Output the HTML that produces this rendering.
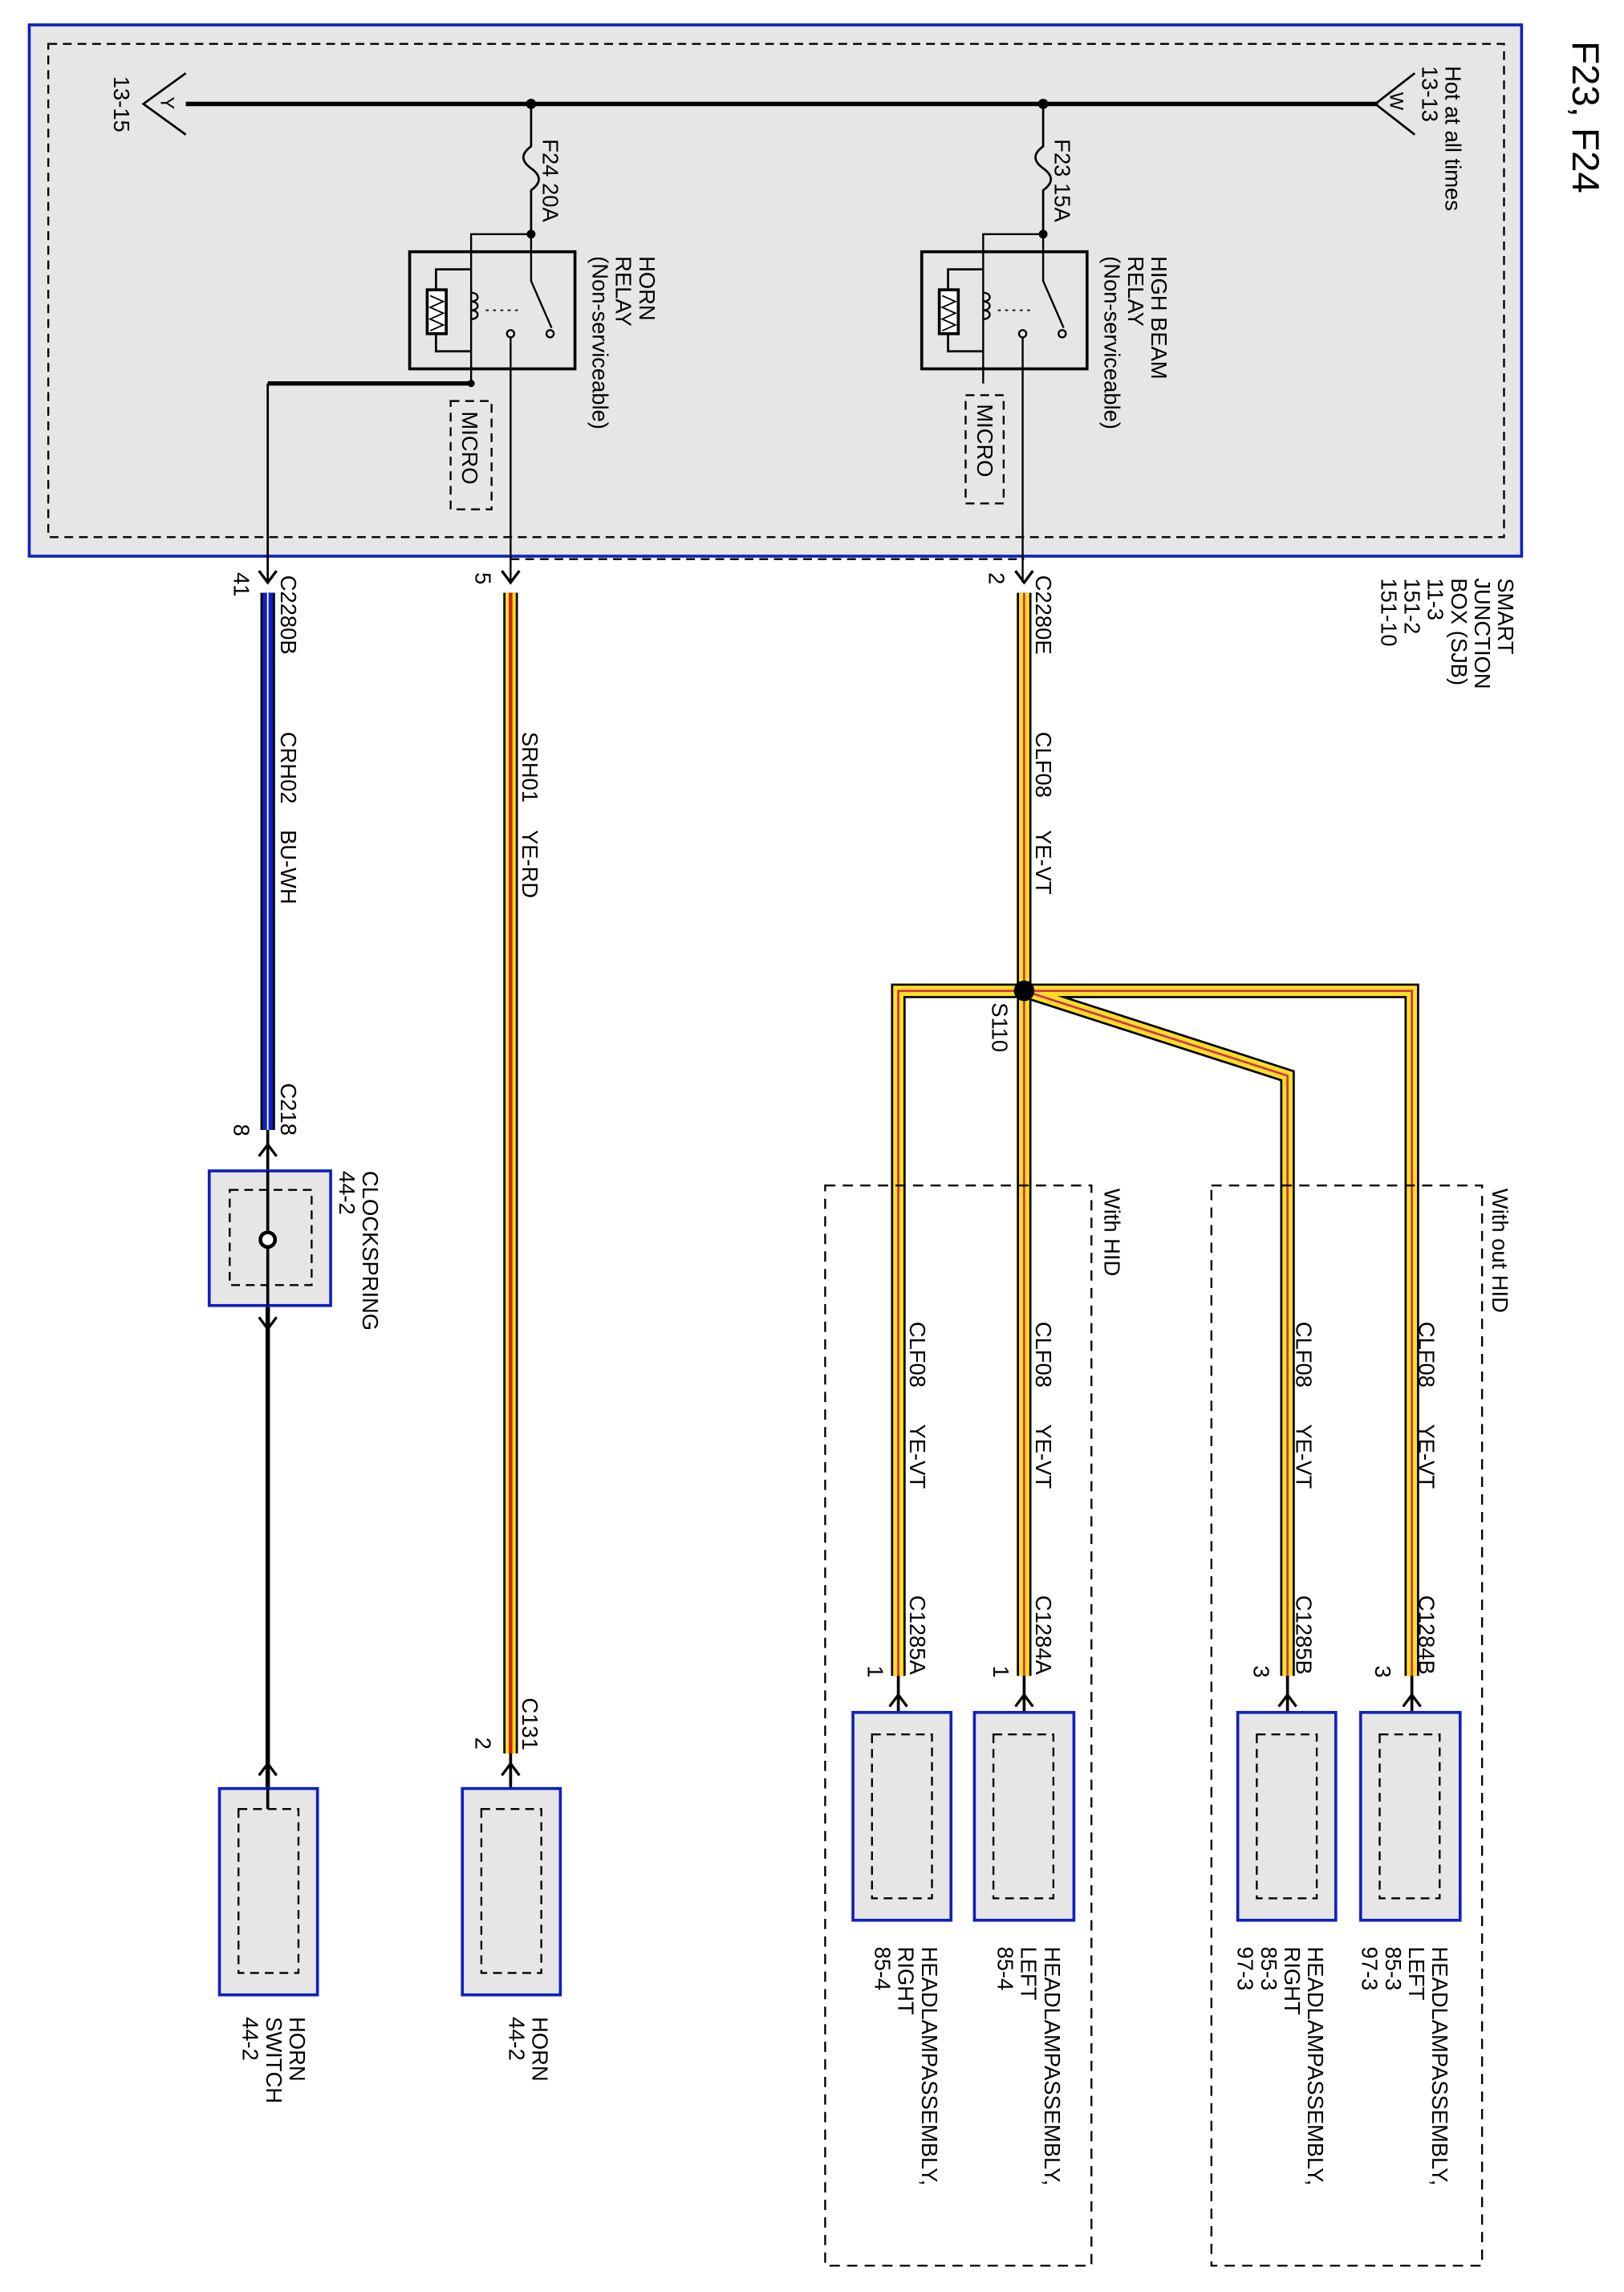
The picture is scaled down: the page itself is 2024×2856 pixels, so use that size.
<!DOCTYPE html>
<html><head><meta charset="utf-8"><style>
html,body{margin:0;padding:0;background:#fff;}
svg{display:block;}
text{font-family:"Liberation Sans",sans-serif;font-size:15px;fill:#000;}
</style></head><body>
<svg width="2024" height="2856" viewBox="0 0 1110 1566" preserveAspectRatio="none" xmlns="http://www.w3.org/2000/svg">
<rect width="1110" height="1566" fill="#fff"/>
<!-- SJB box -->
<rect x="20" y="17" width="1020" height="363" fill="#e6e6e6" stroke="#1020c0" stroke-width="2"/>
<rect x="33" y="30" width="995" height="337" fill="none" stroke="#000" stroke-width="1.3" stroke-dasharray="6,4"/>
<!-- bus -->
<line x1="127" y1="71" x2="942" y2="71" stroke="#000" stroke-width="3"/>
<path d="M127 50 L98 71 L127 92" fill="none" stroke="#000" stroke-width="1.5"/>
<path d="M967 50 L940 71 L967 92" fill="none" stroke="#000" stroke-width="1.5"/>
<circle cx="363" cy="71" r="3.5"/><circle cx="713" cy="71" r="3.5"/>
<g id="relayH">
<path d="M363 71 V100 c -7 5 -7 10 0 15 c 7 5 7 10 0 15 V160" fill="none" stroke="#000" stroke-width="1.5"/>
<circle cx="363" cy="160" r="3"/>
<rect x="280" y="172" width="113" height="80" fill="none" stroke="#000" stroke-width="2"/>
<path d="M363 160 H322 V262" fill="none" stroke="#000" stroke-width="1.3"/>
<path d="M322 184 H298 V240 H322" fill="none" stroke="#000" stroke-width="1.5"/>
<rect x="292" y="198" width="13" height="30" fill="#fff" stroke="#000" stroke-width="2"/>
<path d="M294 202 L303 206 L294 210 L303 214 L294 218 L303 222 L294 226" fill="none" stroke="#000" stroke-width="1"/>
<path d="M322 200 c 6 0 6 6 0 6 c 6 0 6 6 0 6 c 6 0 6 6 0 6" fill="none" stroke="#000" stroke-width="1.3"/>
<path d="M363 160 V192 L377 224" fill="none" stroke="#000" stroke-width="1.3"/>
<circle cx="376" cy="228" r="2.5" fill="none" stroke="#000" stroke-width="1.3"/>
<line x1="332" y1="212" x2="356" y2="212" stroke="#000" stroke-width="1" stroke-dasharray="2,3"/>
<circle cx="349" cy="228" r="2.5" fill="none" stroke="#000" stroke-width="1.3"/>
<line x1="349" y1="231" x2="349" y2="398" stroke="#000" stroke-width="1.3"/>
</g>
<use href="#relayH" x="350" y="0"/>
<rect x="308" y="274" width="28" height="74" fill="none" stroke="#000" stroke-width="1.3" stroke-dasharray="6,4"/>
<rect x="660" y="270" width="26" height="74" fill="none" stroke="#000" stroke-width="1.3" stroke-dasharray="6,4"/>
<path d="M322 262 H183" stroke="#000" stroke-width="3" fill="none"/>
<circle cx="322" cy="262" r="2.5"/>
<line x1="183" y1="262" x2="183" y2="398" stroke="#000" stroke-width="1.5"/>
<line x1="349" y1="382" x2="700" y2="382" stroke="#000" stroke-width="1.3" stroke-dasharray="6,4"/>
<!-- chevrons down -->
<g fill="none" stroke="#000" stroke-width="1.8">
<path d="M177 390 L183 398 L189 390"/><path d="M343 390 L349 398 L355 390"/><path d="M694 390 L700 398 L706 390"/>
<path d="M177 790 L183 782 L189 790"/>
<path d="M177 900 L183 908 L189 900"/>
<path d="M177 1213 L183 1205 L189 1213"/>
<path d="M343 1213 L349 1205 L355 1213"/>
<path d="M608 1166 L614 1158 L620 1166"/><path d="M694 1166 L700 1158 L706 1166"/>
<path d="M874 1166 L880 1158 L886 1166"/><path d="M959 1166 L965 1158 L971 1166"/>
</g>
<!-- blue wire -->
<line x1="183" y1="405" x2="183" y2="772" stroke="#000" stroke-width="10"/>
<line x1="183" y1="405" x2="183" y2="772" stroke="#1020c0" stroke-width="7"/>
<line x1="183" y1="405" x2="183" y2="772" stroke="#fff" stroke-width="1"/>
<line x1="183" y1="772" x2="183" y2="800" stroke="#000" stroke-width="2"/>
<line x1="183" y1="892" x2="183" y2="1222" stroke="#000" stroke-width="3"/>
<!-- yellow red wire -->
<line x1="349" y1="405" x2="349" y2="1198" stroke="#000" stroke-width="10"/>
<line x1="349" y1="405" x2="349" y2="1198" stroke="#ffe020" stroke-width="7"/>
<line x1="349" y1="405" x2="349" y2="1198" stroke="#d02000" stroke-width="2.5"/>
<line x1="349" y1="1198" x2="349" y2="1236" stroke="#000" stroke-width="2"/>
<!-- yellow violet harness -->
<g fill="none" stroke-linejoin="miter">
<path id="h" d="M700 405 V1145 M700 677 H614 V1145 M700 677 H965 V1145 M700 677 L880 735 V1145" stroke="#000" stroke-width="10"/>
<path d="M700 405 V1145 M700 677 H614 V1145 M700 677 H965 V1145 M700 677 L880 735 V1145" stroke="#ffe020" stroke-width="7"/>
<path d="M700 405 V1145 M700 677 H614 V1145 M700 677 H965 V1145 M700 677 L880 735 V1145" stroke="#d03060" stroke-width="1.5"/>
</g>
<g stroke="#000" stroke-width="2">
<line x1="614" y1="1145" x2="614" y2="1185"/><line x1="700" y1="1145" x2="700" y2="1185"/>
<line x1="880" y1="1145" x2="880" y2="1185"/><line x1="965" y1="1145" x2="965" y2="1185"/>
</g>
<circle cx="700" cy="677" r="7"/>
<!-- dashed option boxes -->
<rect x="564" y="810" width="182" height="738" fill="none" stroke="#000" stroke-width="1.3" stroke-dasharray="7,5"/>
<rect x="828" y="810" width="185" height="738" fill="none" stroke="#000" stroke-width="1.3" stroke-dasharray="7,5"/>
<!-- components -->
<g fill="#e6e6e6" stroke="#1020c0" stroke-width="2">
<rect x="143" y="800" width="83" height="92"/>
<rect x="150" y="1222" width="67" height="141"/>
<rect x="316" y="1222" width="67" height="141"/>
<rect x="583" y="1170" width="67" height="142"/>
<rect x="666" y="1170" width="68" height="142"/>
<rect x="846" y="1170" width="67" height="142"/>
<rect x="930" y="1170" width="68" height="142"/>
</g>
<g fill="none" stroke="#000" stroke-width="1.3" stroke-dasharray="6,4">
<rect x="157" y="813" width="56" height="65"/>
<rect x="163" y="1236" width="41" height="112"/>
<rect x="329" y="1236" width="41" height="112"/>
<rect x="596" y="1185" width="41" height="112"/>
<rect x="679" y="1185" width="41" height="112"/>
<rect x="859" y="1185" width="41" height="112"/>
<rect x="943" y="1185" width="41" height="112"/>
</g>
<line x1="183" y1="800" x2="183" y2="892" stroke="#000" stroke-width="2"/>
<circle cx="183" cy="847" r="5" fill="#fff" stroke="#000" stroke-width="2.5"/>
<line x1="183" y1="1222" x2="183" y2="1236" stroke="#000" stroke-width="2"/>
<!-- texts -->
<g>
<text transform="translate(1075,28) rotate(90)" style="font-size:26px">F23, F24</text>
<text transform="translate(988,45) rotate(90)">Hot at all times</text>
<text transform="translate(972,45) rotate(90)">13-13</text>
<text transform="translate(950,63) rotate(90)" style="font-size:13px">W</text>
<text transform="translate(110,66) rotate(90)" style="font-size:13px">Y</text>
<text transform="translate(78,52) rotate(90)">13-15</text>
<text transform="translate(371,95) rotate(90)">F24  20A</text>
<text transform="translate(721,95) rotate(90)">F23  15A</text>
<text transform="translate(437,175) rotate(90)">HORN</text>
<text transform="translate(421,175) rotate(90)">RELAY</text>
<text transform="translate(405,175) rotate(90)">(Non-serviceable)</text>
<text transform="translate(787,175) rotate(90)">HIGH BEAM</text>
<text transform="translate(771,175) rotate(90)">RELAY</text>
<text transform="translate(755,175) rotate(90)">(Non-serviceable)</text>
<text transform="translate(316,281) rotate(90)">MICRO</text>
<text transform="translate(668,276) rotate(90)">MICRO</text>
<text transform="translate(1024,395) rotate(90)">SMART</text>
<text transform="translate(1008,395) rotate(90)">JUNCTION</text>
<text transform="translate(992,395) rotate(90)">BOX (SJB)</text>
<text transform="translate(976,395) rotate(90)">11-3</text>
<text transform="translate(960,395) rotate(90)">151-2</text>
<text transform="translate(944,395) rotate(90)">151-10</text>
<text transform="translate(192,393) rotate(90)">C2280B</text>
<text transform="translate(160,391) rotate(90)">41</text>
<text transform="translate(325,391) rotate(90)">5</text>
<text transform="translate(676,391) rotate(90)">2</text>
<text transform="translate(708,393) rotate(90)">C2280E</text>
<text transform="translate(192,500) rotate(90)">CRH02</text>
<text transform="translate(192,567) rotate(90)">BU-WH</text>
<text transform="translate(357,500) rotate(90)">SRH01</text>
<text transform="translate(357,567) rotate(90)">YE-RD</text>
<text transform="translate(708,500) rotate(90)">CLF08</text>
<text transform="translate(708,567) rotate(90)">YE-VT</text>
<text transform="translate(678,685) rotate(90)">S110</text>
<text transform="translate(192,740) rotate(90)">C218</text>
<text transform="translate(160,768) rotate(90)">8</text>
<text transform="translate(248,800) rotate(90)">CLOCKSPRING</text>
<text transform="translate(232,800) rotate(90)">44-2</text>
<text transform="translate(755,812) rotate(90)">With HID</text>
<text transform="translate(1020,812) rotate(90)">With out HID</text>
<text transform="translate(622,903) rotate(90)">CLF08</text><text transform="translate(622,973) rotate(90)">YE-VT</text>
<text transform="translate(708,903) rotate(90)">CLF08</text><text transform="translate(708,973) rotate(90)">YE-VT</text>
<text transform="translate(886,903) rotate(90)">CLF08</text><text transform="translate(886,973) rotate(90)">YE-VT</text>
<text transform="translate(970,903) rotate(90)">CLF08</text><text transform="translate(970,973) rotate(90)">YE-VT</text>
<text transform="translate(622,1090) rotate(90)">C1285A</text>
<text transform="translate(708,1090) rotate(90)">C1284A</text>
<text transform="translate(886,1090) rotate(90)">C1285B</text>
<text transform="translate(970,1090) rotate(90)">C1284B</text>
<text transform="translate(593,1138) rotate(90)">1</text>
<text transform="translate(679,1138) rotate(90)">1</text>
<text transform="translate(857,1138) rotate(90)">3</text>
<text transform="translate(940,1138) rotate(90)">3</text>
<text transform="translate(357,1160) rotate(90)">C131</text>
<text transform="translate(325,1187) rotate(90)">2</text>
<text transform="translate(979,1330) rotate(90)">HEADLAMPASSEMBLY,</text>
<text transform="translate(963,1330) rotate(90)">LEFT</text>
<text transform="translate(947,1330) rotate(90)">85-3</text>
<text transform="translate(931,1330) rotate(90)">97-3</text>
<text transform="translate(894,1330) rotate(90)">HEADLAMPASSEMBLY,</text>
<text transform="translate(878,1330) rotate(90)">RIGHT</text>
<text transform="translate(862,1330) rotate(90)">85-3</text>
<text transform="translate(846,1330) rotate(90)">97-3</text>
<text transform="translate(714,1330) rotate(90)">HEADLAMPASSEMBLY,</text>
<text transform="translate(698,1330) rotate(90)">LEFT</text>
<text transform="translate(682,1330) rotate(90)">85-4</text>
<text transform="translate(630,1330) rotate(90)">HEADLAMPASSEMBLY,</text>
<text transform="translate(614,1330) rotate(90)">RIGHT</text>
<text transform="translate(598,1330) rotate(90)">85-4</text>
<text transform="translate(364,1378) rotate(90)">HORN</text>
<text transform="translate(348,1378) rotate(90)">44-2</text>
<text transform="translate(198,1378) rotate(90)">HORN</text>
<text transform="translate(182,1378) rotate(90)">SWITCH</text>
<text transform="translate(166,1378) rotate(90)">44-2</text>
</g>
</svg>
</body></html>
